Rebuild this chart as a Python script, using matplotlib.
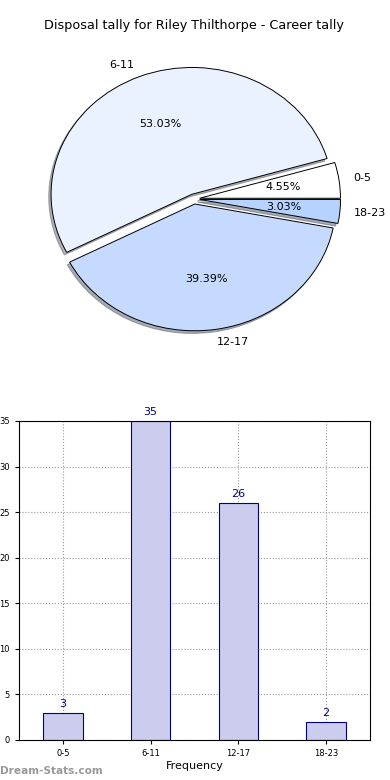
import matplotlib
matplotlib.use('Agg')
import matplotlib.pyplot as plt
import numpy as np

# Data
bins = ['0-5', '6-11', '12-17', '18-23']
counts = [3, 35, 26, 2]
pie_colors = ['#ffffff', '#eaf1ff', '#c6d9ff', '#b6d3ff']
explode = [0.04, 0.04, 0.04, 0.04]

title = 'Disposal tally for Riley Thilthorpe - Career tally'

fig = plt.figure(figsize=(3.9, 7.8), dpi=100)

# Pie on top (not equal aspect, like old matplotlib)
ax1 = fig.add_axes([0.046, 0.5417, 0.903, 0.4064])
wedges, texts, autotexts = ax1.pie(
    counts, labels=bins, colors=pie_colors, explode=explode,
    autopct='%1.2f%%', startangle=0,
    shadow={'ox': -0.012, 'oy': -0.015, 'shade': 0.6},
    wedgeprops={'edgecolor': 'black', 'linewidth': 0.7},
    textprops={'fontsize': 8})
ax1.set_aspect('auto')
ax1.set_xlim(-1.25, 1.25)
ax1.set_ylim(-1.25, 1.25)
ax1.set_title(title, fontsize=9.2, pad=8)

# Bar chart below
ax2 = fig.add_axes([0.0487, 0.0513, 0.9, 0.409])
x = np.arange(len(bins))
bars = ax2.bar(x, counts, width=0.45, color='#ccccee', edgecolor='navy',
               linewidth=0.8, zorder=2)
for xi, c in zip(x, counts):
    ax2.text(xi, c + 0.4, str(c), ha='center', va='bottom',
             color='navy', fontsize=8)
ax2.set_xlim(-0.5, 3.5)
ax2.set_ylim(0, 35)
ax2.set_yticks(range(0, 36, 5))
ax2.set_xticks(x)
ax2.set_xticklabels(bins)
ax2.tick_params(labelsize=6, length=3)
ax2.grid(True, linestyle=':', color='#999999', linewidth=0.8, zorder=0)
ax2.set_axisbelow(True)
ax2.set_xlabel('Frequency', fontsize=8, labelpad=2)
# label sits mostly past the left edge, as in the reference
ax2.set_ylabel('Disposals', fontsize=8)
ax2.yaxis.set_label_coords(-0.065, 0.5)

fig.text(0.0, 0.005, 'Dream-Stats.com', color='#999999', fontsize=7.6,
         fontweight='bold', ha='left', va='bottom')

fig.savefig('out.png', dpi=100)
